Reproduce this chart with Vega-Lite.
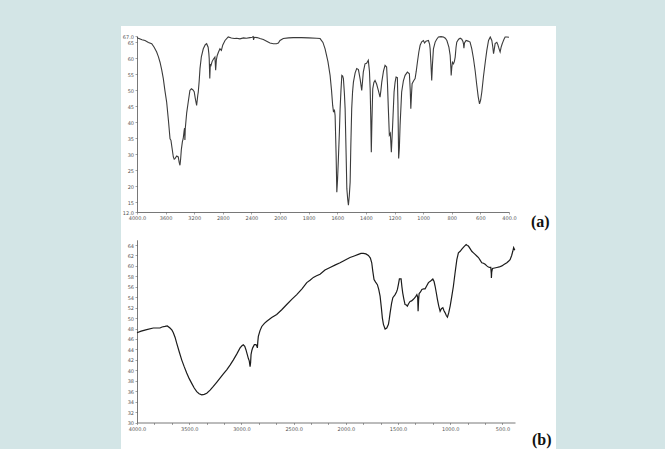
{
  "$schema": "https://vega.github.io/schema/vega-lite/v6.json",
  "width": 435,
  "height": 423,
  "autosize": {"type": "none"},
  "padding": {"left": 121, "top": 26, "right": 109, "bottom": 0},
  "background": "#d3e5e6",
  "config": {
    "view": {"fill": "white", "stroke": null},
    "axis": {
      "grid": false,
      "title": null,
      "tickCount": 100,
      "domainColor": "#555",
      "domainWidth": 0.8,
      "tickColor": "#666",
      "tickSize": 2,
      "tickWidth": 0.6,
      "labelFont": "DejaVu Sans",
      "labelFontSize": 5,
      "labelColor": "#555",
      "labelPadding": 1.5,
      "labelFlush": false,
      "labelOverlap": false
    }
  },
  "datasets": {
    "irA": [
      {"wn": 4000, "t": 66.5}, {"wn": 3982, "t": 66.3}, {"wn": 3930, "t": 65.8}, {"wn": 3888, "t": 65.6},
      {"wn": 3840, "t": 65.0}, {"wn": 3794, "t": 64.6}, {"wn": 3760, "t": 63.5}, {"wn": 3725, "t": 62.0},
      {"wn": 3700, "t": 60.5}, {"wn": 3678, "t": 58.8}, {"wn": 3655, "t": 56.5}, {"wn": 3632, "t": 53.7},
      {"wn": 3610, "t": 50.0}, {"wn": 3585, "t": 46.3}, {"wn": 3560, "t": 40.5}, {"wn": 3538, "t": 34.9},
      {"wn": 3525, "t": 34.4}, {"wn": 3510, "t": 32.0}, {"wn": 3492, "t": 29.2}, {"wn": 3480, "t": 28.5},
      {"wn": 3469, "t": 28.7}, {"wn": 3445, "t": 29.5}, {"wn": 3423, "t": 29.2}, {"wn": 3410, "t": 27.5},
      {"wn": 3399, "t": 26.6}, {"wn": 3390, "t": 28.5}, {"wn": 3380, "t": 31.5}, {"wn": 3365, "t": 34.0},
      {"wn": 3354, "t": 34.9}, {"wn": 3340, "t": 37.5}, {"wn": 3335, "t": 38.2}, {"wn": 3330, "t": 34.5},
      {"wn": 3325, "t": 38.0}, {"wn": 3305, "t": 43.0}, {"wn": 3284, "t": 46.3}, {"wn": 3260, "t": 50.0},
      {"wn": 3240, "t": 50.5}, {"wn": 3220, "t": 50.2}, {"wn": 3200, "t": 49.6}, {"wn": 3185, "t": 47.5},
      {"wn": 3166, "t": 45.3}, {"wn": 3150, "t": 48.5}, {"wn": 3143, "t": 49.5}, {"wn": 3130, "t": 53.0},
      {"wn": 3119, "t": 56.8}, {"wn": 3100, "t": 60.5}, {"wn": 3073, "t": 63.0}, {"wn": 3045, "t": 64.3},
      {"wn": 3026, "t": 64.6}, {"wn": 3005, "t": 63.5}, {"wn": 2995, "t": 61.5}, {"wn": 2990, "t": 59.9},
      {"wn": 2982, "t": 53.7}, {"wn": 2975, "t": 58.0}, {"wn": 2965, "t": 57.8}, {"wn": 2950, "t": 59.0},
      {"wn": 2930, "t": 59.8}, {"wn": 2910, "t": 60.4}, {"wn": 2900, "t": 56.3}, {"wn": 2890, "t": 59.5},
      {"wn": 2878, "t": 60.9}, {"wn": 2860, "t": 62.0}, {"wn": 2840, "t": 63.0}, {"wn": 2820, "t": 62.5},
      {"wn": 2800, "t": 64.2}, {"wn": 2769, "t": 65.6}, {"wn": 2724, "t": 66.7}, {"wn": 2680, "t": 66.4},
      {"wn": 2640, "t": 66.2}, {"wn": 2607, "t": 66.3}, {"wn": 2560, "t": 66.1}, {"wn": 2510, "t": 66.4},
      {"wn": 2470, "t": 66.3}, {"wn": 2420, "t": 66.5}, {"wn": 2390, "t": 66.6}, {"wn": 2375, "t": 66.8},
      {"wn": 2370, "t": 65.8}, {"wn": 2360, "t": 66.6}, {"wn": 2320, "t": 66.5}, {"wn": 2280, "t": 66.2},
      {"wn": 2233, "t": 65.9}, {"wn": 2180, "t": 65.3}, {"wn": 2140, "t": 64.8}, {"wn": 2093, "t": 64.6},
      {"wn": 2050, "t": 64.6}, {"wn": 2023, "t": 64.8}, {"wn": 2000, "t": 65.6}, {"wn": 1977, "t": 66.2},
      {"wn": 1940, "t": 66.4}, {"wn": 1907, "t": 66.5}, {"wn": 1850, "t": 66.5}, {"wn": 1800, "t": 66.4},
      {"wn": 1744, "t": 66.3}, {"wn": 1720, "t": 66.2}, {"wn": 1700, "t": 65.0}, {"wn": 1685, "t": 63.0},
      {"wn": 1665, "t": 59.0}, {"wn": 1650, "t": 54.7}, {"wn": 1640, "t": 50.0}, {"wn": 1632, "t": 45.3},
      {"wn": 1626, "t": 43.2}, {"wn": 1620, "t": 44.0}, {"wn": 1615, "t": 42.2}, {"wn": 1608, "t": 30.0},
      {"wn": 1603, "t": 18.2}, {"wn": 1598, "t": 22.0}, {"wn": 1592, "t": 28.7}, {"wn": 1585, "t": 37.0},
      {"wn": 1580, "t": 44.3}, {"wn": 1574, "t": 50.0}, {"wn": 1568, "t": 54.7}, {"wn": 1562, "t": 54.5},
      {"wn": 1557, "t": 53.7}, {"wn": 1550, "t": 49.0}, {"wn": 1545, "t": 44.3}, {"wn": 1538, "t": 30.0},
      {"wn": 1533, "t": 19.3}, {"wn": 1527, "t": 16.0}, {"wn": 1522, "t": 14.1}, {"wn": 1516, "t": 17.0},
      {"wn": 1510, "t": 21.3}, {"wn": 1505, "t": 33.0}, {"wn": 1499, "t": 44.3}, {"wn": 1493, "t": 49.5},
      {"wn": 1487, "t": 52.6}, {"wn": 1475, "t": 55.5}, {"wn": 1464, "t": 56.8}, {"wn": 1452, "t": 56.5},
      {"wn": 1440, "t": 53.5}, {"wn": 1429, "t": 50.0}, {"wn": 1423, "t": 53.0}, {"wn": 1418, "t": 55.7},
      {"wn": 1406, "t": 58.3}, {"wn": 1395, "t": 58.5}, {"wn": 1383, "t": 59.4}, {"wn": 1375, "t": 56.0},
      {"wn": 1370, "t": 50.5}, {"wn": 1366, "t": 42.0}, {"wn": 1362, "t": 30.7}, {"wn": 1358, "t": 40.0},
      {"wn": 1352, "t": 50.5}, {"wn": 1344, "t": 52.5}, {"wn": 1336, "t": 53.1}, {"wn": 1325, "t": 52.0},
      {"wn": 1313, "t": 50.0}, {"wn": 1301, "t": 47.9}, {"wn": 1295, "t": 50.0}, {"wn": 1289, "t": 52.6},
      {"wn": 1277, "t": 56.0}, {"wn": 1266, "t": 57.8}, {"wn": 1255, "t": 57.3}, {"wn": 1249, "t": 52.0},
      {"wn": 1243, "t": 44.3}, {"wn": 1236, "t": 36.0}, {"wn": 1229, "t": 36.6}, {"wn": 1222, "t": 30.7},
      {"wn": 1213, "t": 39.1}, {"wn": 1203, "t": 49.5}, {"wn": 1196, "t": 52.5}, {"wn": 1189, "t": 54.2},
      {"wn": 1180, "t": 54.0}, {"wn": 1176, "t": 46.0}, {"wn": 1171, "t": 28.7}, {"wn": 1166, "t": 32.0},
      {"wn": 1161, "t": 39.1}, {"wn": 1150, "t": 49.5}, {"wn": 1138, "t": 53.0}, {"wn": 1126, "t": 54.7},
      {"wn": 1110, "t": 55.7}, {"wn": 1096, "t": 55.2}, {"wn": 1090, "t": 50.0}, {"wn": 1086, "t": 44.3},
      {"wn": 1081, "t": 49.0}, {"wn": 1077, "t": 52.1}, {"wn": 1066, "t": 53.0}, {"wn": 1056, "t": 53.7},
      {"wn": 1048, "t": 56.0}, {"wn": 1040, "t": 58.8}, {"wn": 1030, "t": 62.0}, {"wn": 1021, "t": 64.1},
      {"wn": 1010, "t": 65.2}, {"wn": 998, "t": 65.6}, {"wn": 990, "t": 64.8}, {"wn": 980, "t": 65.4},
      {"wn": 963, "t": 65.6}, {"wn": 955, "t": 64.5}, {"wn": 951, "t": 63.0}, {"wn": 945, "t": 58.0},
      {"wn": 940, "t": 53.1}, {"wn": 935, "t": 58.0}, {"wn": 928, "t": 63.0}, {"wn": 916, "t": 65.1},
      {"wn": 905, "t": 66.0}, {"wn": 893, "t": 66.7}, {"wn": 875, "t": 66.8}, {"wn": 858, "t": 66.7},
      {"wn": 845, "t": 66.3}, {"wn": 834, "t": 65.6}, {"wn": 820, "t": 63.5}, {"wn": 811, "t": 60.9},
      {"wn": 806, "t": 57.0}, {"wn": 804, "t": 54.7}, {"wn": 800, "t": 57.0}, {"wn": 795, "t": 58.8},
      {"wn": 788, "t": 58.3}, {"wn": 782, "t": 59.0}, {"wn": 776, "t": 60.4}, {"wn": 770, "t": 63.5},
      {"wn": 765, "t": 65.1}, {"wn": 752, "t": 66.0}, {"wn": 741, "t": 66.3}, {"wn": 730, "t": 66.0},
      {"wn": 722, "t": 65.3}, {"wn": 718, "t": 64.5}, {"wn": 715, "t": 63.2}, {"wn": 711, "t": 64.8},
      {"wn": 700, "t": 65.6}, {"wn": 686, "t": 65.4}, {"wn": 672, "t": 65.1}, {"wn": 660, "t": 63.0},
      {"wn": 648, "t": 59.9}, {"wn": 636, "t": 56.0}, {"wn": 625, "t": 51.6}, {"wn": 615, "t": 48.0},
      {"wn": 606, "t": 45.8}, {"wn": 598, "t": 47.0}, {"wn": 590, "t": 49.5}, {"wn": 578, "t": 54.5},
      {"wn": 566, "t": 58.8}, {"wn": 555, "t": 62.5}, {"wn": 543, "t": 65.6}, {"wn": 531, "t": 66.7},
      {"wn": 520, "t": 65.6}, {"wn": 513, "t": 63.5}, {"wn": 508, "t": 61.5}, {"wn": 503, "t": 62.8},
      {"wn": 497, "t": 64.6}, {"wn": 485, "t": 65.0}, {"wn": 478, "t": 64.3}, {"wn": 473, "t": 63.5},
      {"wn": 466, "t": 62.5}, {"wn": 462, "t": 62.0}, {"wn": 455, "t": 63.5}, {"wn": 448, "t": 64.5},
      {"wn": 443, "t": 65.1}, {"wn": 435, "t": 66.0}, {"wn": 427, "t": 66.7}, {"wn": 415, "t": 66.7},
      {"wn": 400, "t": 66.6}
    ],
    "irB": [
      {"wn": 4000, "t": 47.2}, {"wn": 3960, "t": 47.5}, {"wn": 3907, "t": 47.8}, {"wn": 3844, "t": 48.1},
      {"wn": 3780, "t": 48.1}, {"wn": 3760, "t": 48.3}, {"wn": 3732, "t": 48.4}, {"wn": 3710, "t": 48.5},
      {"wn": 3684, "t": 48.1}, {"wn": 3665, "t": 47.7}, {"wn": 3652, "t": 47.2}, {"wn": 3635, "t": 46.3},
      {"wn": 3620, "t": 45.2}, {"wn": 3595, "t": 43.5}, {"wn": 3572, "t": 42.0}, {"wn": 3548, "t": 40.7},
      {"wn": 3524, "t": 39.5}, {"wn": 3500, "t": 38.4}, {"wn": 3476, "t": 37.5}, {"wn": 3452, "t": 36.6},
      {"wn": 3428, "t": 35.9}, {"wn": 3405, "t": 35.5}, {"wn": 3380, "t": 35.3}, {"wn": 3356, "t": 35.4},
      {"wn": 3332, "t": 35.6}, {"wn": 3300, "t": 36.2}, {"wn": 3269, "t": 36.9}, {"wn": 3237, "t": 37.7},
      {"wn": 3205, "t": 38.5}, {"wn": 3173, "t": 39.3}, {"wn": 3141, "t": 40.1}, {"wn": 3109, "t": 41.0},
      {"wn": 3077, "t": 42.0}, {"wn": 3045, "t": 43.1}, {"wn": 3013, "t": 44.3}, {"wn": 2995, "t": 44.7},
      {"wn": 2982, "t": 44.9}, {"wn": 2968, "t": 44.6}, {"wn": 2956, "t": 43.9}, {"wn": 2945, "t": 43.1},
      {"wn": 2934, "t": 42.3}, {"wn": 2925, "t": 41.8}, {"wn": 2917, "t": 40.7}, {"wn": 2912, "t": 41.5},
      {"wn": 2908, "t": 43.0}, {"wn": 2900, "t": 43.8}, {"wn": 2892, "t": 44.3}, {"wn": 2876, "t": 44.9},
      {"wn": 2860, "t": 44.9}, {"wn": 2852, "t": 44.6}, {"wn": 2847, "t": 44.3}, {"wn": 2843, "t": 45.5},
      {"wn": 2838, "t": 46.5}, {"wn": 2822, "t": 47.6}, {"wn": 2805, "t": 48.4}, {"wn": 2780, "t": 49.0},
      {"wn": 2757, "t": 49.4}, {"wn": 2710, "t": 50.1}, {"wn": 2662, "t": 50.7}, {"wn": 2614, "t": 51.6},
      {"wn": 2566, "t": 52.6}, {"wn": 2518, "t": 53.6}, {"wn": 2470, "t": 54.5}, {"wn": 2420, "t": 55.6},
      {"wn": 2374, "t": 56.8}, {"wn": 2340, "t": 57.3}, {"wn": 2311, "t": 57.8}, {"wn": 2280, "t": 58.1},
      {"wn": 2247, "t": 58.4}, {"wn": 2200, "t": 59.2}, {"wn": 2151, "t": 59.7}, {"wn": 2100, "t": 60.2},
      {"wn": 2055, "t": 60.6}, {"wn": 2010, "t": 61.1}, {"wn": 1960, "t": 61.6}, {"wn": 1920, "t": 61.9},
      {"wn": 1880, "t": 62.2}, {"wn": 1855, "t": 62.4}, {"wn": 1832, "t": 62.4}, {"wn": 1808, "t": 62.3},
      {"wn": 1784, "t": 62.0}, {"wn": 1765, "t": 61.5}, {"wn": 1752, "t": 60.6}, {"wn": 1742, "t": 59.0},
      {"wn": 1730, "t": 57.4}, {"wn": 1715, "t": 56.9}, {"wn": 1698, "t": 56.4}, {"wn": 1685, "t": 55.5},
      {"wn": 1672, "t": 54.2}, {"wn": 1660, "t": 52.0}, {"wn": 1650, "t": 50.0}, {"wn": 1640, "t": 48.8},
      {"wn": 1624, "t": 47.9}, {"wn": 1608, "t": 48.1}, {"wn": 1592, "t": 48.8}, {"wn": 1584, "t": 49.8},
      {"wn": 1576, "t": 51.0}, {"wn": 1562, "t": 52.8}, {"wn": 1550, "t": 53.9}, {"wn": 1528, "t": 54.5},
      {"wn": 1515, "t": 55.0}, {"wn": 1506, "t": 55.5}, {"wn": 1496, "t": 56.5}, {"wn": 1487, "t": 57.5},
      {"wn": 1471, "t": 57.5}, {"wn": 1463, "t": 56.0}, {"wn": 1455, "t": 54.8}, {"wn": 1444, "t": 53.6},
      {"wn": 1433, "t": 52.6}, {"wn": 1420, "t": 52.5}, {"wn": 1411, "t": 52.3}, {"wn": 1398, "t": 52.8},
      {"wn": 1385, "t": 53.2}, {"wn": 1370, "t": 53.3}, {"wn": 1353, "t": 53.6}, {"wn": 1335, "t": 54.0},
      {"wn": 1320, "t": 54.5}, {"wn": 1312, "t": 54.0}, {"wn": 1308, "t": 51.3}, {"wn": 1303, "t": 53.5},
      {"wn": 1298, "t": 54.7}, {"wn": 1285, "t": 55.0}, {"wn": 1272, "t": 55.5}, {"wn": 1255, "t": 55.6},
      {"wn": 1241, "t": 55.6}, {"wn": 1225, "t": 56.2}, {"wn": 1209, "t": 56.8}, {"wn": 1188, "t": 57.1},
      {"wn": 1167, "t": 57.5}, {"wn": 1155, "t": 57.0}, {"wn": 1145, "t": 56.1}, {"wn": 1135, "t": 55.0},
      {"wn": 1123, "t": 53.6}, {"wn": 1110, "t": 52.3}, {"wn": 1097, "t": 51.3}, {"wn": 1085, "t": 51.8},
      {"wn": 1071, "t": 52.0}, {"wn": 1060, "t": 51.4}, {"wn": 1049, "t": 51.0}, {"wn": 1038, "t": 50.5},
      {"wn": 1027, "t": 50.2}, {"wn": 1015, "t": 51.0}, {"wn": 1001, "t": 52.3}, {"wn": 985, "t": 54.2},
      {"wn": 970, "t": 56.1}, {"wn": 955, "t": 58.5}, {"wn": 937, "t": 61.2}, {"wn": 922, "t": 62.5},
      {"wn": 905, "t": 62.8}, {"wn": 889, "t": 63.2}, {"wn": 868, "t": 63.7}, {"wn": 848, "t": 64.1},
      {"wn": 837, "t": 63.9}, {"wn": 826, "t": 63.8}, {"wn": 810, "t": 63.3}, {"wn": 794, "t": 62.8},
      {"wn": 778, "t": 62.5}, {"wn": 762, "t": 62.2}, {"wn": 746, "t": 61.9}, {"wn": 730, "t": 61.6},
      {"wn": 714, "t": 61.1}, {"wn": 698, "t": 60.6}, {"wn": 682, "t": 60.5}, {"wn": 666, "t": 60.3},
      {"wn": 650, "t": 60.0}, {"wn": 635, "t": 59.8}, {"wn": 622, "t": 59.7}, {"wn": 612, "t": 59.7},
      {"wn": 607, "t": 58.5}, {"wn": 606, "t": 57.7}, {"wn": 603, "t": 58.8}, {"wn": 596, "t": 59.5},
      {"wn": 575, "t": 59.6}, {"wn": 554, "t": 59.7}, {"wn": 530, "t": 59.8}, {"wn": 506, "t": 60.0},
      {"wn": 482, "t": 60.3}, {"wn": 458, "t": 60.6}, {"wn": 442, "t": 60.9}, {"wn": 427, "t": 61.2},
      {"wn": 412, "t": 62.0}, {"wn": 401, "t": 62.8}, {"wn": 393, "t": 63.5}, {"wn": 388, "t": 63.3},
      {"wn": 382, "t": 63.0}
    ]
  },
  "layer": [
    {
      "layer": [
        {
          "data": {"name": "irA"},
          "mark": {"type": "line", "color": "#3b3b3b", "strokeWidth": 1.1},
          "encoding": {
            "x": {
              "field": "wn", "type": "quantitative",
              "scale": {"domain": [4000, 2000, 400], "range": [16, 159, 388], "nice": false, "zero": false},
              "axis": {
                "orient": "bottom", "offset": -237, "tickCount": 100,
                "values": [4000, 3600, 3200, 2800, 2400, 2000, 1800, 1600, 1400, 1200, 1000, 800, 600, 400],
                "labelExpr": "datum.value == 4000 || datum.value == 400 ? format(datum.value, '.1f') : format(datum.value, 'd')"
              }
            },
            "y": {
              "field": "t", "type": "quantitative",
              "scale": {"domain": [12, 67], "range": [186, 10], "nice": false, "zero": false},
              "axis": {
                "orient": "left", "offset": -16, "tickCount": 100,
                "values": [12, 15, 20, 25, 30, 35, 40, 45, 50, 55, 60, 65, 67],
                "labelExpr": "datum.value == 12 || datum.value == 67 ? format(datum.value, '.1f') : format(datum.value, 'd')"
              }
            }
          }
        },
        {
          "data": {"values": [{"panel": "a"}]},
          "mark": {"type": "text", "text": "(a)", "align": "left", "baseline": "middle", "dx": 22, "dy": 10,
                   "font": "Liberation Serif", "fontWeight": "bold", "fontSize": 16, "color": "#111"},
          "encoding": {"x": {"datum": 400}, "y": {"datum": 12}}
        }
      ]
    },
    {
      "layer": [
        {
          "data": {"name": "irB"},
          "mark": {"type": "line", "color": "#1c1c1c", "strokeWidth": 1.2},
          "encoding": {
            "x": {
              "field": "wn", "type": "quantitative",
              "scale": {"domain": [4000, 380], "range": [16, 394], "nice": false, "zero": false},
              "axis": {
                "orient": "bottom", "offset": -26.5, "tickCount": 100,
                "values": [4000, 3833.3, 3666.7, 3500, 3333.3, 3166.7, 3000, 2833.3, 2666.7, 2500, 2333.3, 2166.7,
                           2000, 1833.3, 1666.7, 1500, 1333.3, 1166.7, 1000, 833.3, 666.7, 500],
                "labelExpr": "datum.value % 500 == 0 ? format(datum.value, '.1f') : ''"
              }
            },
            "y": {
              "field": "t", "type": "quantitative",
              "scale": {"domain": [30, 65], "range": [396.5, 213.8], "nice": false, "zero": false},
              "axis": {
                "orient": "left", "offset": -16, "tickCount": 100,
                "values": [30, 32, 34, 36, 38, 40, 42, 44, 46, 48, 50, 52, 54, 56, 58, 60, 62, 64],
                "format": "d"
              }
            }
          }
        },
        {
          "data": {"values": [{"panel": "b"}]},
          "mark": {"type": "text", "text": "(b)", "align": "left", "baseline": "middle", "dx": 17, "dy": 17,
                   "font": "Liberation Serif", "fontWeight": "bold", "fontSize": 16, "color": "#111"},
          "encoding": {"x": {"datum": 380}, "y": {"datum": 30}}
        }
      ]
    }
  ],
  "resolve": {
    "scale": {"x": "independent", "y": "independent"},
    "axis": {"x": "independent", "y": "independent"}
  }
}
